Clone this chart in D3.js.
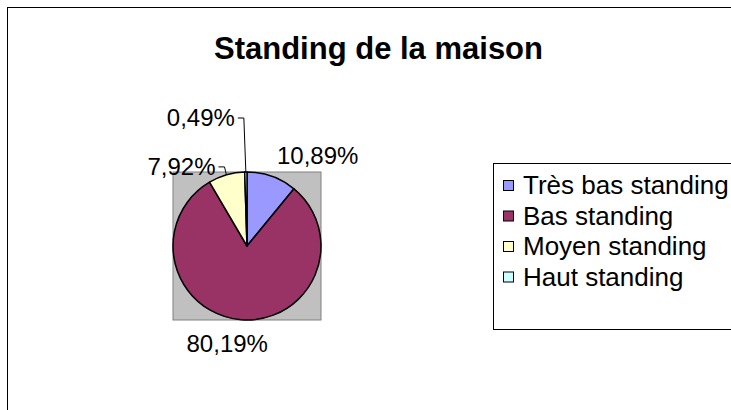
<!DOCTYPE html>
<html>
<head>
<meta charset="utf-8">
<script src="https://cdn.jsdelivr.net/npm/d3@7"></script>
<style>
  body { margin: 0; background: #fff; }
  svg { display: block; font-family: "Liberation Sans", Arial, sans-serif; }
</style>
</head>
<body>
<svg id="chart" width="731" height="410"></svg>
<script>
const categories = ["Très bas standing", "Bas standing", "Moyen standing", "Haut standing"];
const percents = [10.89, 80.19, 7.92, 0.49];
const colors = ["#9999FF", "#993366", "#FFFFCC", "#CCFFFF"];

// label placement relative to the slice's outer point: [dx, dy, anchor]
const labelNudge = [[5, -12, "start"], [-14, 32, "middle"], [-11, 0, "end"], [-11, -46, "end"]];

const width = 731, height = 410;
const svg = d3.select("#chart");

// chart frame
svg.append("rect")
    .attr("x", 7.5).attr("y", 7.5)
    .attr("width", width).attr("height", height)
    .attr("fill", "#fff")
    .attr("stroke", "#000");

svg.append("text")
    .attr("x", 378.5).attr("y", 59)
    .attr("text-anchor", "middle")
    .attr("font-size", 31)
    .attr("font-weight", "bold")
    .text("Standing de la maison");

const cx = 247, cy = 246, r = 74;

// plot area
svg.append("rect")
    .attr("x", cx - r).attr("y", cy - r)
    .attr("width", 2 * r).attr("height", 2 * r)
    .attr("fill", "#C0C0C0")
    .attr("stroke", "#808080");

const pie = d3.pie().sort(null).value(d => d);
const arcs = pie(percents);
const arc = d3.arc().innerRadius(0).outerRadius(r);

const g = svg.append("g").attr("transform", `translate(${cx},${cy})`);

g.selectAll("path")
    .data(arcs)
    .join("path")
    .attr("d", arc)
    .attr("fill", (d, i) => colors[i])
    .attr("stroke", "#000")
    .attr("stroke-width", 1.5)
    .attr("stroke-linejoin", "round");

const fmt = v => d3.format(".2f")(v).replace(".", ",") + "%";
const outerPoint = d => {
    const a = (d.startAngle + d.endAngle) / 2;
    return [r * Math.sin(a), -r * Math.cos(a)];
};

arcs.forEach((d, i) => {
    const [px, py] = outerPoint(d);
    const [dx, dy, anchor] = labelNudge[i];
    const lx = px + dx, ly = py + dy;
    g.append("text")
        .attr("x", lx).attr("y", ly)
        .attr("text-anchor", anchor)
        .attr("font-size", 24)
        .text(fmt(percents[i]));
    // leader lines for the thin slices
    if (percents[i] < 9) {
        const ex = lx + 3, ey = ly - 8;
        g.append("path")
            .attr("d", d3.line()([[ex, ey], [ex + 6, ey], [px, py]]))
            .attr("fill", "none")
            .attr("stroke", "#000")
            .attr("stroke-width", 1);
    }
});

// legend
const lg = svg.append("g");
lg.append("rect")
    .attr("x", 493.5).attr("y", 163.5)
    .attr("width", 260).attr("height", 166)
    .attr("fill", "#fff")
    .attr("stroke", "#000");

const row = lg.selectAll(".item")
    .data(categories)
    .join("g")
    .attr("class", "item")
    .attr("transform", (d, i) => `translate(503,${185 + i * 30.5})`);

row.append("rect")
    .attr("x", 0.5).attr("y", -4.5)
    .attr("width", 10).attr("height", 10)
    .attr("fill", (d, i) => colors[i])
    .attr("stroke", "#000");

row.append("text")
    .attr("x", 20).attr("y", 9)
    .attr("font-size", 26)
    .text(d => d);
</script>
</body>
</html>
